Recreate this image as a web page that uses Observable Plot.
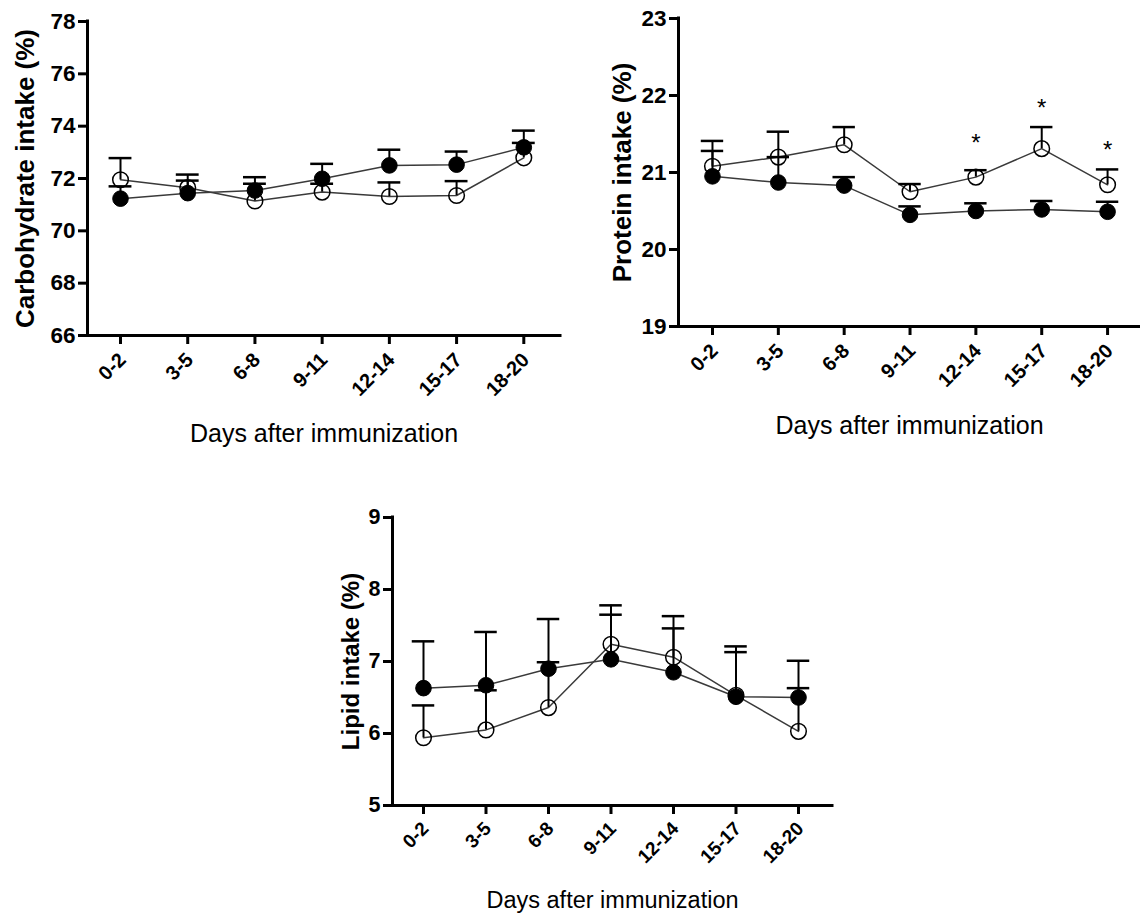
<!DOCTYPE html>
<html>
<head>
<meta charset="utf-8">
<script src="https://cdn.jsdelivr.net/npm/d3@7"></script>
<script src="https://cdn.jsdelivr.net/npm/@observablehq/plot@0.6"></script>
<style>
  html, body { margin: 0; padding: 0; background: #fff; }
  #wrap { position: relative; width: 1140px; height: 914px; background: #fff; overflow: hidden; }
  #wrap > div { position: absolute; }
</style>
</head>
<body>
<div id="wrap">
  <div id="carb" style="left:0px; top:0px;"></div>
  <div id="prot" style="left:600px; top:0px;"></div>
  <div id="lip" style="left:320px; top:490px;"></div>
</div>
<script>
// Categories (x axis)
const cats = ["0-2", "3-5", "6-8", "9-11", "12-14", "15-17", "18-20"];

// Carbohydrate intake (%): means and upper error-bar ends
const carbOpen       = [71.95, 71.65, 71.14, 71.48, 71.31, 71.35, 72.79];
const carbOpenHi     = [72.78, 71.92, 71.80, 71.80, 71.85, 71.90, 73.36];
const carbFilled     = [71.23, 71.44, 71.54, 71.99, 72.50, 72.53, 73.19];
const carbFilledHi   = [71.70, 72.15, 72.05, 72.56, 73.10, 73.03, 73.83];
const carbTicks      = [66, 68, 70, 72, 74, 76, 78];

// Protein intake (%)
const protOpen       = [21.08, 21.20, 21.36, 20.75, 20.94, 21.31, 20.84];
const protOpenHi     = [21.41, 21.53, 21.59, 20.85, 21.03, 21.59, 21.04];
const protFilled     = [20.95, 20.87, 20.83, 20.45, 20.50, 20.52, 20.49];
const protFilledHi   = [21.28, 21.20, 20.94, 20.56, 20.60, 20.63, 20.62];
const protTicks      = [19, 20, 21, 22, 23];
const protStarCats   = ["12-14", "15-17", "18-20"];
const protStarY      = [21.46, 21.91, 21.36];

// Lipid intake (%)
const lipOpen        = [5.94, 6.05, 6.36, 7.24, 7.06, 6.53, 6.03];
const lipOpenHi      = [6.39, 6.60, 6.99, 7.78, 7.63, 7.21, 6.63];
const lipFilled      = [6.63, 6.67, 6.90, 7.03, 6.85, 6.51, 6.50];
const lipFilledHi    = [7.28, 7.41, 7.59, 7.65, 7.46, 7.13, 7.01];
const lipTicks       = [5, 6, 7, 8, 9];

const xLabel = "Days after immunization";
const FONT = "'Liberation Sans', Arial, Helvetica, sans-serif";

function rows(vals, his) {
  return cats.map((c, i) => ({i, cat: c, v: vals[i], hi: his[i]}));
}

function panel(cfg) {
  const open = rows(cfg.open, cfg.openHi);
  const filled = rows(cfg.filled, cfg.filledHi);
  const ymin = cfg.yticks[0], ymax = cfg.yticks[cfg.yticks.length - 1];
  const cap = cfg.cap;
  const frameW = cfg.width - cfg.ml - cfg.mr;
  const frameH = cfg.height - cfg.mt - cfg.mb;
  const xIdx = d3.range(cats.length);
  const TS = 9;
  const marks = [
    // tick labels
    Plot.text(cfg.yticks, {y: d => d, text: d => String(d), frameAnchor: "left",
      dx: -(TS + 3), textAnchor: "end", lineAnchor: "middle",
      fontSize: cfg.yFont, fontWeight: "bold", fill: "black"}),
    Plot.text(xIdx, {x: d => d, text: i => cats[i], frameAnchor: "bottom",
      dy: TS + cfg.xPad, dx: 2, rotate: -45, textAnchor: "end", lineAnchor: "middle",
      fontSize: cfg.xFont, fontWeight: "bold", fill: "black"}),
    // thick tick marks
    Plot.tickY(cfg.yticks, {y: d => d, stroke: "black", strokeWidth: 3,
      insetLeft: -TS, insetRight: frameW}),
    Plot.tickX(xIdx, {x: d => d, stroke: "black", strokeWidth: 3,
      insetTop: frameH, insetBottom: -TS}),
    // axis lines
    Plot.ruleY([ymin], {stroke: "black", strokeWidth: 3, strokeLinecap: "square"}),
    Plot.ruleX([cfg.xdom[0]], {stroke: "black", strokeWidth: 3, strokeLinecap: "square"}),
    // connecting lines
    Plot.line(open, {x: "i", y: "v", stroke: "#3a3a3a", strokeWidth: 1.5}),
    Plot.line(filled, {x: "i", y: "v", stroke: "#3a3a3a", strokeWidth: 1.5}),
    // error bars (upper)
    Plot.ruleX(open, {x: "i", y1: "v", y2: "hi", stroke: "black", strokeWidth: 2}),
    Plot.ruleY(open, {y: "hi", x1: d => d.i - cap, x2: d => d.i + cap, stroke: "black", strokeWidth: 2.5}),
    Plot.ruleX(filled, {x: "i", y1: "v", y2: "hi", stroke: "black", strokeWidth: 2}),
    Plot.ruleY(filled, {y: "hi", x1: d => d.i - cap, x2: d => d.i + cap, stroke: "black", strokeWidth: 2.5}),
    // points
    Plot.dot(open, {x: "i", y: "v", r: 7.8, fill: "none", stroke: "black", strokeWidth: 1.5}),
    Plot.dot(filled, {x: "i", y: "v", r: 7.8, fill: "black", stroke: "black", strokeWidth: 1}),
    // axis titles
    Plot.text([cfg.ylabel], {frameAnchor: "left", text: d => d, rotate: -90, dx: cfg.yLabelDx,
      textAnchor: "middle", lineAnchor: "middle",
      fontSize: cfg.yLabelFont, fontWeight: "bold", fill: "black"}),
    Plot.text([xLabel], {frameAnchor: "bottom", text: d => d, dy: cfg.xLabelDy,
      textAnchor: "middle", lineAnchor: "middle",
      fontSize: cfg.xLabelFont, fill: "black"})
  ];
  if (cfg.stars) {
    const starRows = cfg.stars.cats.map((c, k) => ({i: cats.indexOf(c), v: cfg.stars.y[k]}));
    marks.push(Plot.text(starRows, {x: "i", y: "v", text: () => "*", fontSize: 24, dy: 6, fill: "black"}));
  }
  const chart = Plot.plot({
    width: cfg.width,
    height: cfg.height,
    marginLeft: cfg.ml, marginRight: cfg.mr, marginTop: cfg.mt, marginBottom: cfg.mb,
    x: {type: "linear", domain: cfg.xdom, axis: null},
    y: {type: "linear", domain: [ymin, ymax], axis: null},
    style: {fontFamily: FONT, color: "black", background: "white", overflow: "visible"},
    marks
  });
  document.getElementById(cfg.el).appendChild(chart);
}

panel({
  el: "carb", width: 570, height: 460, ml: 87, mr: 10, mt: 21, mb: 125,
  xdom: [-0.491, 6.546], yticks: carbTicks, cap: 0.17,
  open: carbOpen, openHi: carbOpenHi, filled: carbFilled, filledHi: carbFilledHi,
  ylabel: "Carbohydrate intake (%)", yLabelDx: -62, yLabelFont: 26, yFont: 22.5, xFont: 20, xPad: 12,
  xLabelDy: 98, xLabelFont: 25
});

panel({
  el: "prot", width: 540, height: 450, ml: 78, mr: 0, mt: 18, mb: 124,
  xdom: [-0.516, 6.50], yticks: protTicks, cap: 0.17,
  open: protOpen, openHi: protOpenHi, filled: protFilled, filledHi: protFilledHi,
  ylabel: "Protein intake (%)", yLabelDx: -56, yLabelFont: 26, yFont: 22.5, xFont: 20, xPad: 12,
  xLabelDy: 99, xLabelFont: 25,
  stars: {cats: protStarCats, y: protStarY}
});

panel({
  el: "lip", width: 530, height: 424, ml: 72, mr: 18, mt: 27, mb: 109,
  xdom: [-0.496, 6.544], yticks: lipTicks, cap: 0.18,
  open: lipOpen, openHi: lipOpenHi, filled: lipFilled, filledHi: lipFilledHi,
  ylabel: "Lipid intake (%)", yLabelDx: -41, yLabelFont: 24, yFont: 21.5, xFont: 19, xPad: 11,
  xLabelDy: 95, xLabelFont: 23.5
});
</script>
</body>
</html>
